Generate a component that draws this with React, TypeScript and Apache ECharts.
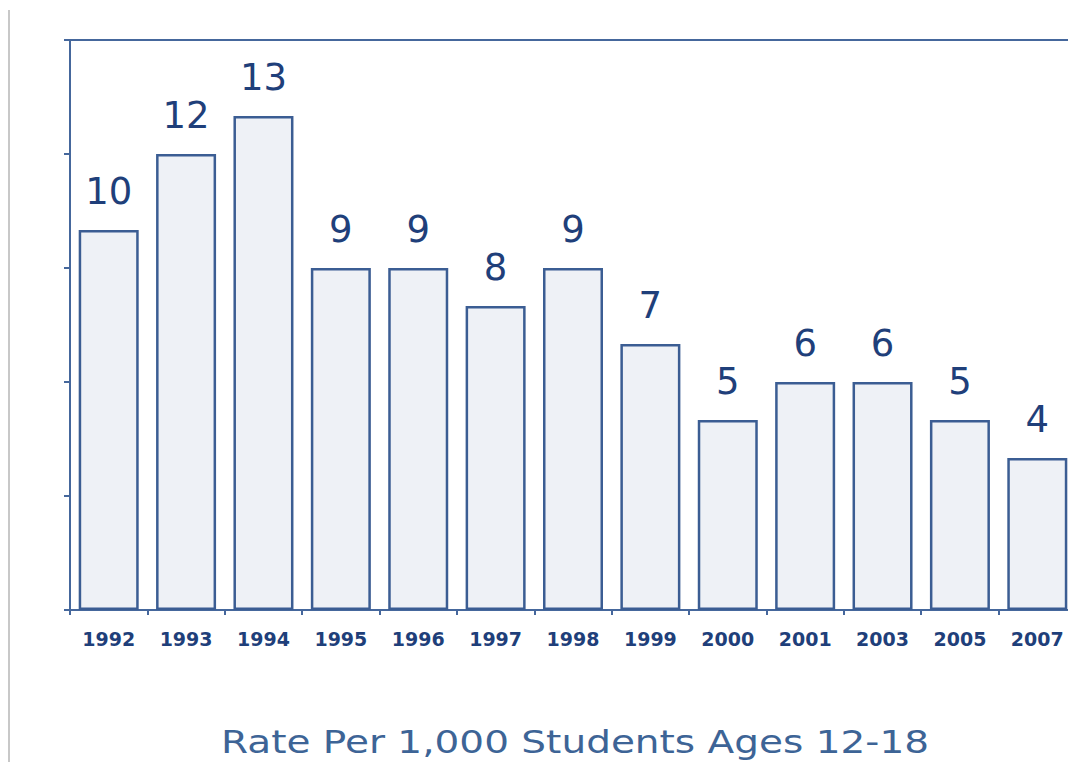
import React, { useEffect, useRef } from "react";
import * as echarts from "echarts";

const years = ["1992", "1993", "1994", "1995", "1996", "1997", "1998", "1999", "2000", "2001", "2003", "2005", "2007"];
const rates = [10, 12, 13, 9, 9, 8, 9, 7, 5, 6, 6, 5, 4];
const axisTitle = "Rate Per 1,000 Students Ages 12-18";

export default function App() {
  const ref = useRef<HTMLDivElement>(null);
  useEffect(() => {
    if (!ref.current) return;
    const chart = echarts.init(ref.current, null, { renderer: "svg" });
    const axisColor = "#45679c";
    chart.setOption({
      animation: false,
      backgroundColor: "#ffffff",
      grid: {
        left: 70,
        top: 40,
        width: 1006,
        height: 570,
        show: true,
        borderColor: axisColor,
        borderWidth: 2,
        backgroundColor: "transparent",
      },
      xAxis: {
        type: "category",
        data: years,
        axisLine: { lineStyle: { color: axisColor, width: 2 } },
        axisTick: { show: true, length: 5, lineStyle: { color: axisColor, width: 2 } },
        axisLabel: {
          color: "#1f3f7a",
          fontFamily: "DejaVu Sans",
          fontWeight: "bold",
          fontSize: 19,
          margin: 19,
        },
      },
      yAxis: {
        type: "value",
        min: 0,
        max: 15,
        interval: 3,
        axisLine: { show: true, lineStyle: { color: axisColor, width: 2 } },
        axisTick: { show: true, length: 6, lineStyle: { color: axisColor, width: 2 } },
        axisLabel: { show: false },
        splitLine: { show: false },
      },
      series: [
        {
          type: "bar",
          data: rates,
          barWidth: 60,
          itemStyle: { color: "#eef1f6", borderColor: "#3b5d93", borderWidth: 2.5 },
          label: {
            show: true,
            position: "top",
            distance: 20,
            color: "#1f3f7a",
            fontFamily: "DejaVu Sans",
            fontSize: 37,
          },
        },
      ],
      graphic: [
        {
          type: "line",
          shape: { x1: 9, y1: 10, x2: 9, y2: 762 },
          style: { stroke: "#c8c8c8", lineWidth: 2 },
        },
        {
          type: "text",
          x: 575,
          y: 742,
          scaleY: 0.82,
          style: {
            text: axisTitle,
            fill: "#3d6496",
            font: "39px 'DejaVu Sans'",
            textAlign: "center",
            textVerticalAlign: "middle",
          },
        },
      ],
    });
    return () => chart.dispose();
  }, []);
  return (
    <div style={{ position: "absolute", left: 0, top: 0, width: 1068, height: 762, overflow: "hidden" }}>
      <div ref={ref} style={{ width: 1100, height: 762 }} />
    </div>
  );
}
